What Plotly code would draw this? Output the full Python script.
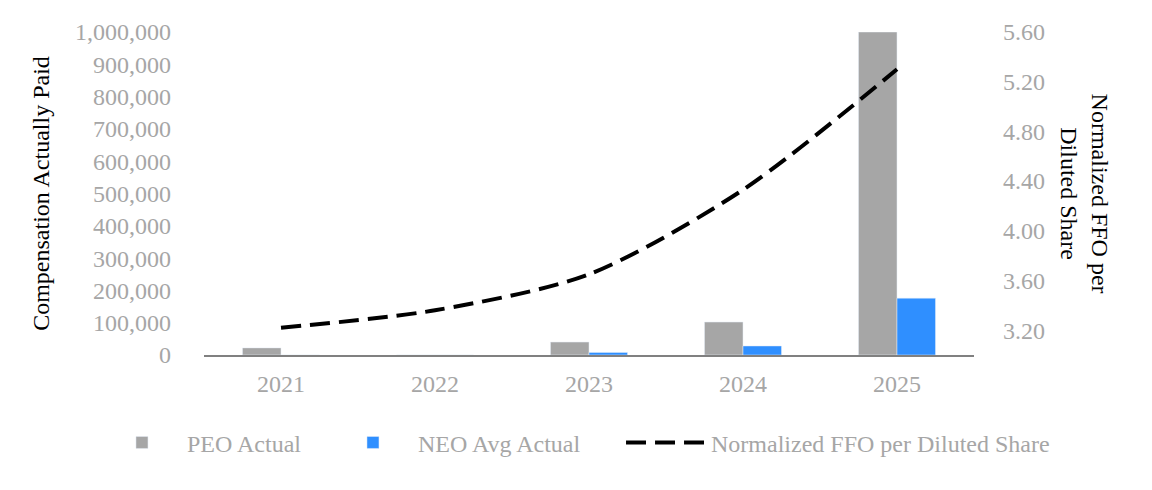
import plotly.graph_objects as go

years = ["2021", "2022", "2023", "2024", "2025"]
peo_actual = [22000, 0, 40000, 102000, 1000000]
neo_avg_actual = [0, 0, 8000, 28000, 176000]
ffo_per_share = [3.22, 3.36, 3.65, 4.33, 5.30]

left_ticks = [0, 100000, 200000, 300000, 400000, 500000, 600000, 700000, 800000, 900000, 1000000]
right_ticks = [3.20, 3.60, 4.00, 4.40, 4.80, 5.20, 5.60]

FONT = "Liberation Serif"
GRAY_TXT = "#a6a6a6"

fig = go.Figure()
fig.add_trace(go.Bar(x=years, y=peo_actual, name="PEO Actual", marker_color="#a6a6a6",
                     legend="legend", showlegend=True))
fig.add_trace(go.Bar(x=years, y=neo_avg_actual, name="NEO Avg Actual", marker_color="#2f8fff",
                     legend="legend2", showlegend=True))
fig.add_trace(go.Scatter(x=years, y=ffo_per_share, name="Normalized FFO per Diluted Share",
                         mode="lines", yaxis="y2", line_shape="spline", legend="legend3", showlegend=True,
                         line=dict(color="black", width=4, dash="20px,9px", smoothing=0.8)))

legend_common = dict(orientation="h", xanchor="left", y=-0.272, yanchor="middle",
                     itemwidth=80, bgcolor="rgba(0,0,0,0)", visible=True,
                     font=dict(family=FONT, size=24, color=GRAY_TXT))

fig.update_layout(
    width=1144, height=482,
    margin=dict(l=196, r=178, t=24, b=135),
    paper_bgcolor="white", plot_bgcolor="white",
    showlegend=True,
    font=dict(family=FONT, size=24, color=GRAY_TXT),
    barmode="group", bargap=0.5, bargroupgap=0,
    xaxis=dict(type="category", showgrid=False, showline=True, linecolor="#808080", linewidth=2,
               ticks="", tickfont=dict(family=FONT, size=24, color=GRAY_TXT), ticklabelstandoff=6),
    yaxis=dict(range=[0, 1000000], tickvals=left_ticks, tickformat=",", showgrid=False,
               zeroline=False, showline=False, ticks="", tickfont=dict(family=FONT, size=24, color=GRAY_TXT),
               ticklabelstandoff=32,
               title=dict(text="Compensation Actually Paid", font=dict(family=FONT, size=24, color="black"),
                          standoff=18)),
    yaxis2=dict(range=[3.0, 5.6], tickvals=right_ticks, tickformat=".2f", overlaying="y", side="right",
                showgrid=False, zeroline=False, showline=False, ticks="",
                tickfont=dict(family=FONT, size=24, color=GRAY_TXT), ticklabelstandoff=28),
    legend=dict(x=-0.139, **legend_common),
    legend2=dict(x=0.161, **legend_common),
    legend3=dict(x=0.5416, **legend_common),
    annotations=[dict(text="Normalized FFO per<br>Diluted Share", textangle=90, xref="paper", yref="paper",
                      x=1.144, y=0.5, xanchor="center", yanchor="middle", showarrow=False,
                      font=dict(family=FONT, size=24, color="black"))],
)

fig.write_html("out.html")
